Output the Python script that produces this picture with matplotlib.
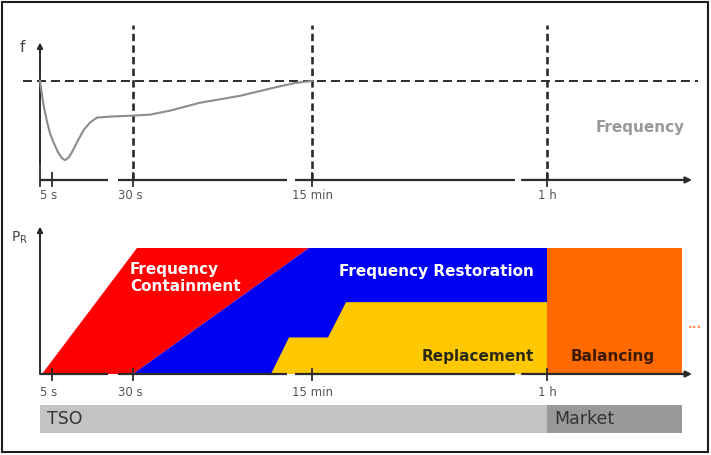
import matplotlib
matplotlib.use("Agg")
import matplotlib.pyplot as plt
from matplotlib.patches import Rectangle

# schematic time axis (non-linear), positions along the axis
tick_pos = [12, 93, 272, 507]
tick_labels = ["5 s", "30 s", "15 min", "1 h"]
axis_breaks = [(68, 78), (247, 255), (475, 482)]
axis_end = 652

# frequency after an incident (1.0 = nominal, 0 = time axis)
curve_t = [0, 2, 4, 7, 10, 14, 18, 22, 25, 29, 33, 38, 44, 50, 57, 70, 93,
           110, 130, 160, 200, 233, 255, 272]
curve_f = [1.0, 0.86, 0.73, 0.59, 0.47, 0.37, 0.28, 0.22, 0.20, 0.23, 0.30,
           0.40, 0.51, 0.58, 0.63, 0.64, 0.65, 0.66, 0.70, 0.78, 0.85, 0.93,
           0.98, 1.0]

# reserve products (outline of each area, P_R normalised to 1)
fcr_t = [2, 97, 269, 93]
fcr_p = [0, 1, 1, 0]
frr_t = [93, 269, 507, 507]
frr_p = [0, 1, 1, 0]
rr_t = [231, 249, 288, 306, 507, 507]
rr_p = [0, 0.29, 0.29, 0.57, 0.57, 0]
bal_t = [507, 642, 642, 507]
bal_p = [1, 1, 0, 0]

# actor bar
actors = ["TSO", "Market"]
actor_start = [0, 507]
actor_end = [507, 642]
actor_colors = ["#c3c3c3", "#999999"]

RED = "#ff0000"
BLUE = "#0000f5"
YELLOW = "#ffc800"
ORANGE = "#ff6a00"
AX = "#2b2b2b"
TXT = "#444444"

fig = plt.figure(figsize=(7.11, 4.55), dpi=100)
top = fig.add_axes([0, 0.5275, 1, 0.4725])
bot = fig.add_axes([0, 0, 1, 0.5275])
for ax in (top, bot):
    ax.set_xlim(-40, 671)
    ax.axis("off")
top.set_ylim(-0.354, 1.818)
bot.set_ylim(-0.643, 1.262)


def time_axis(ax, y, tick_lo, tick_hi):
    xs = [0]
    for a, b in axis_breaks:
        xs += [a, b]
    xs.append(axis_end)
    for i in range(0, len(xs) - 2, 2):
        ax.plot([xs[i], xs[i + 1]], [y, y], color=AX, lw=1.6,
                solid_capstyle="butt", zorder=5)
    ax.annotate("", xy=(xs[-1], y), xytext=(xs[-2], y),
                arrowprops=dict(arrowstyle="-|>", color=AX, lw=1.6,
                                mutation_scale=9, shrinkA=0, shrinkB=0),
                zorder=5)
    for t in tick_pos:
        ax.plot([t, t], [tick_lo, tick_hi], color=AX, lw=1.3, zorder=5)


# ---- top panel: frequency ----
top.plot([-17, 658], [1.0, 1.0], color=AX, lw=1.4, ls=(0, (4.6, 2.6)))
for t in tick_pos[1:]:
    top.plot([t, t], [0, 1.566], color=AX, lw=1.9, ls=(0, (2.8, 1.6)))
top.plot(curve_t, curve_f, color="#8c8c8c", lw=1.5, zorder=4)
top.annotate("", xy=(0, 1.39), xytext=(0, 0.15),
             arrowprops=dict(arrowstyle="-|>", color=AX, lw=1.4,
                             mutation_scale=8, shrinkA=0, shrinkB=0))
top.plot([0, 0], [0.13, -0.06], color=AX, lw=1.3)
time_axis(top, 0, 0.07, -0.06)
for t, lab in zip(tick_pos, tick_labels):
    top.text(t - 3 if "s" == lab[-1] else t, -0.16, lab, ha="center",
             va="center", fontsize=8.5, color="#555555")
top.text(-18, 1.34, "f", fontsize=11, color=TXT, ha="center", va="center")
top.text(600, 0.525, "Frequency", fontsize=11, fontweight="bold",
         color="#999999", ha="center", va="center")

# ---- bottom panel: reserves ----
bot.fill(fcr_t, fcr_p, color=RED, lw=0, zorder=2)
bot.fill(frr_t, frr_p, color=BLUE, lw=0, zorder=3)
bot.fill(rr_t, rr_p, color=YELLOW, lw=0, zorder=4)
bot.fill(bal_t, bal_p, color=ORANGE, lw=0, zorder=4)
bot.annotate("", xy=(0, 1.17), xytext=(0, 0),
             arrowprops=dict(arrowstyle="-|>", color=AX, lw=1.4,
                             mutation_scale=8, shrinkA=0, shrinkB=0))
time_axis(bot, 0, 0.04, -0.05)
for t, lab in zip(tick_pos, tick_labels):
    bot.text(t - 3 if "s" == lab[-1] else t, -0.15, lab, ha="center",
             va="center", fontsize=8.5, color="#555555")
bot.text(-20, 1.08, r"P$_{\mathregular{R}}$", fontsize=10, color=TXT,
         ha="center", va="center")

bot.text(90, 0.762, "Frequency\nContainment", color="white",
         fontweight="bold", fontsize=11, ha="left", va="center",
         linespacing=1.2, zorder=6)
bot.text(396, 0.81, "Frequency Restoration", color="white",
         fontweight="bold", fontsize=11, ha="center", va="center", zorder=6)
bot.text(438, 0.135, "Replacement", color="#2a2a10", fontweight="bold",
         fontsize=11, ha="center", va="center", zorder=6)
bot.text(573, 0.135, "Balancing", color="#3a1a00", fontweight="bold",
         fontsize=11, ha="center", va="center", zorder=6)
bot.text(655, 0.39, "...", color="#ff8a50", fontsize=9, fontweight="bold",
         ha="center", va="center")

for name, s, e, c in zip(actors, actor_start, actor_end, actor_colors):
    bot.add_patch(Rectangle((s, -0.468), e - s, 0.222, color=c, lw=0))
    bot.text(s + 7, -0.36, name, fontsize=12.5, color="#333333",
             ha="left", va="center")

# outer frame
fig.patches.append(Rectangle((2 / 711, 3 / 455), 706 / 711, 450 / 455,
                             transform=fig.transFigure, fill=False,
                             edgecolor="#1e1e1e", lw=1.5))

fig.savefig("out.png", dpi=100, facecolor="white")
